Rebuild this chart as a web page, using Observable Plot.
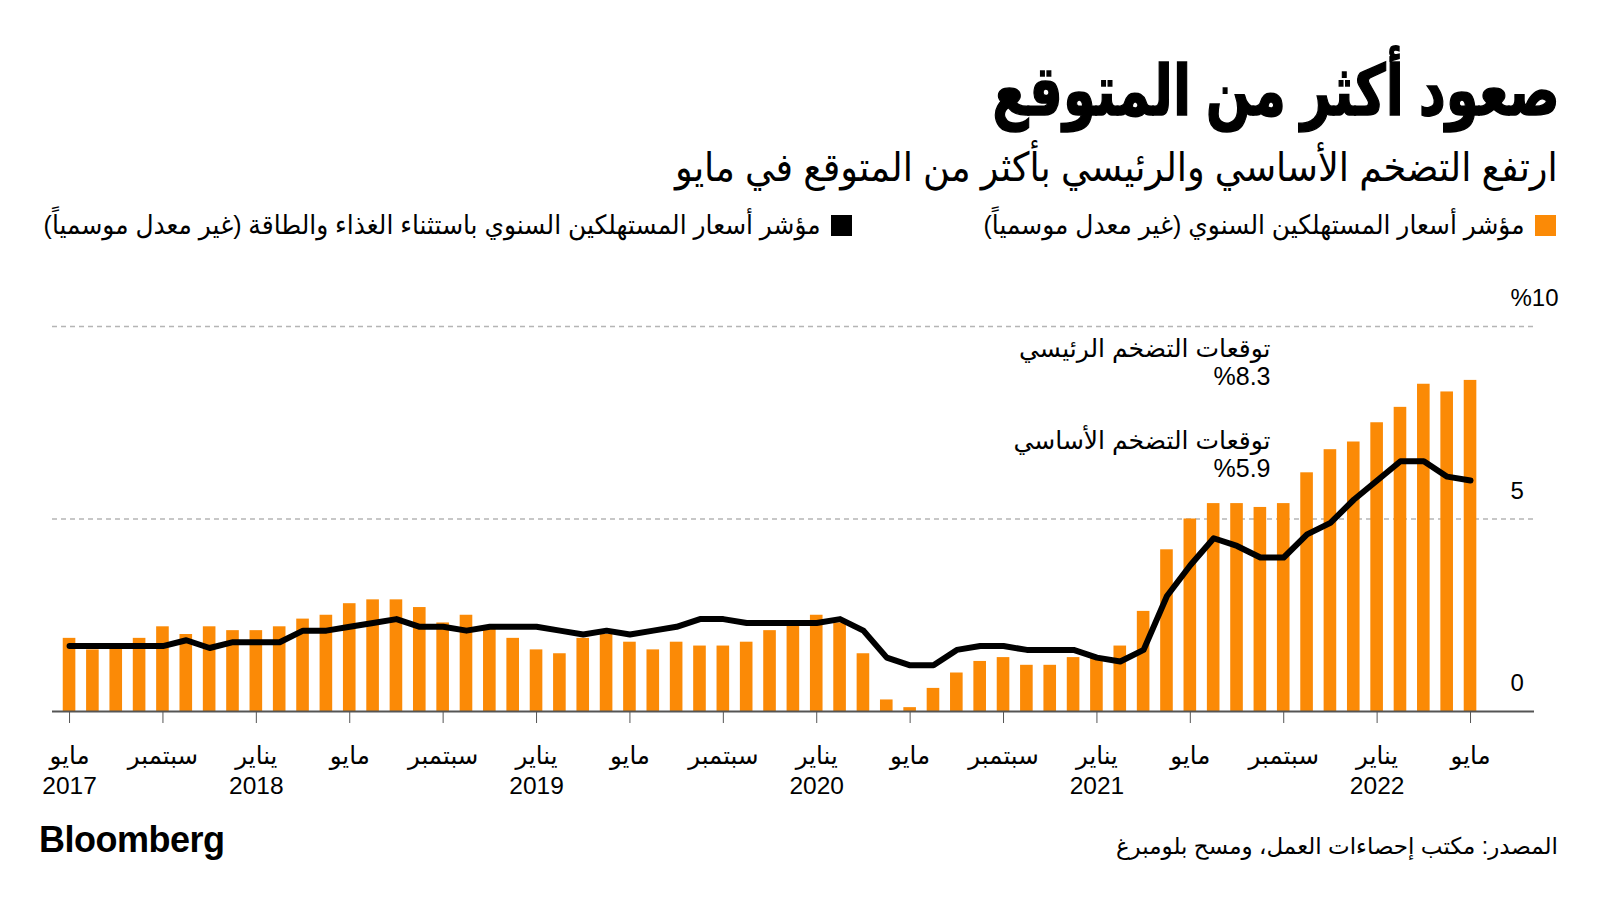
<!DOCTYPE html>
<html lang="ar">
<head>
<meta charset="utf-8">
<script src="https://cdn.jsdelivr.net/npm/d3@7"></script>
<script src="https://cdn.jsdelivr.net/npm/@observablehq/plot@0.6"></script>
<style>
  html, body { margin: 0; padding: 0; background: #fff; }
  body { width: 1600px; height: 900px; position: relative; overflow: hidden;
         font-family: "Liberation Sans", "DejaVu Sans", sans-serif; color: #000; }
  .abs { position: absolute; white-space: nowrap; }
  #title { right: 40px; top: 50px; font-size: 70px; font-weight: bold; direction: rtl;
           -webkit-text-stroke: 1.5px #000; transform: scaleX(0.755); transform-origin: right center; }
  #subtitle { right: 42px; top: 144px; font-size: 40px; direction: rtl;
              transform: scaleX(0.916); transform-origin: right center; }
  .leg { top: 210px; font-size: 26.5px; line-height: 31px; direction: rtl; display: flex; align-items: center; gap: 10px; }
  .leg .txt { display: inline-block; transform: scaleX(0.94); transform-origin: right center; }
  .sw { width: 21px; height: 21px; display: inline-block; }
  #chart { left: 0; top: 260px; }
  #logo { left: 39px; top: 819px; font-size: 36px; font-weight: bold; letter-spacing: -0.5px; direction: ltr; }
  #source { right: 42px; top: 833px; font-size: 23px; direction: rtl; }
</style>
</head>
<body>
<div id="title" class="abs"></div>
<div id="subtitle" class="abs"></div>
<div id="leg1" class="abs leg"></div>
<div id="leg2" class="abs leg"></div>
<div id="chart" class="abs"></div>
<div id="logo" class="abs"></div>
<div id="source" class="abs"></div>
<script>
// ---- texts ----
const titleText = "صعود أكثر من المتوقع";
const subtitleText = "ارتفع التضخم الأساسي والرئيسي بأكثر من المتوقع في مايو";
const seriesNames = ["مؤشر أسعار المستهلكين السنوي (غير معدل موسمياً)",
                     "مؤشر أسعار المستهلكين السنوي باستثناء الغذاء والطاقة (غير معدل موسمياً)"];
const seriesColors = ["#fb8a06", "#000000"];
const sourceText = "المصدر: مكتب إحصاءات العمل، ومسح بلومبرغ";
const logoText = "Bloomberg";

// ---- data: monthly, May 2017 .. May 2022 ----
const months = d3.utcMonth.range(new Date(Date.UTC(2017, 4, 1)), new Date(Date.UTC(2022, 5, 1)));
const cpi = [1.9,1.6,1.7,1.9,2.2,2.0,2.2,2.1,
             2.1,2.2,2.4,2.5,2.8,2.9,2.9,2.7,2.3,2.5,2.2,1.9,
             1.6,1.5,1.9,2.0,1.8,1.6,1.8,1.7,1.7,1.8,2.1,2.3,
             2.5,2.3,1.5,0.3,0.1,0.6,1.0,1.3,1.4,1.2,1.2,1.4,
             1.4,1.7,2.6,4.2,5.0,5.4,5.4,5.3,5.4,6.2,6.8,7.0,
             7.5,7.9,8.5,8.3,8.6];
const core = [1.7,1.7,1.7,1.7,1.7,1.85,1.65,1.8,
              1.8,1.8,2.1,2.1,2.2,2.3,2.4,2.2,2.2,2.1,2.2,2.2,
              2.2,2.1,2.0,2.1,2.0,2.1,2.2,2.4,2.4,2.3,2.3,2.3,
              2.3,2.4,2.1,1.4,1.2,1.2,1.6,1.7,1.7,1.6,1.6,1.6,
              1.4,1.3,1.6,3.0,3.8,4.5,4.3,4.0,4.0,4.6,4.9,5.5,
              6.0,6.5,6.5,6.1,6.0];

// ---- ticks ----
const xTickIndex = [0,4,8,12,16,20,24,28,32,36,40,44,48,52,56,60];
const xTickLabels = ["مايو\n2017","سبتمبر","يناير\n2018","مايو","سبتمبر","يناير\n2019",
                     "مايو","سبتمبر","يناير\n2020","مايو","سبتمبر","يناير\n2021",
                     "مايو","سبتمبر","يناير\n2022","مايو"];
const yTicks = [0, 5, 10];
const yTickLabels = ["0", "5", "%10"];

// ---- forecast annotations ----
const forecastLabels = ["توقعات التضخم الرئيسي", "توقعات التضخم الأساسي"];
const forecastValues = [8.3, 5.9];

// build tables
const data = months.map((m, i) => ({i, month: m, cpi: cpi[i], core: core[i]}));
const forecasts = forecastLabels.map((l, k) => ({i: months.length - 1, value: forecastValues[k], text: l + "\n%" + forecastValues[k]}));

// page texts
document.getElementById("title").textContent = titleText;
document.getElementById("subtitle").textContent = subtitleText;
document.getElementById("source").textContent = sourceText;
document.getElementById("logo").textContent = logoText;
function legendItem(el, name, color, right) {
  el.style.right = right + "px";
  const sw = document.createElement("span"); sw.className = "sw"; sw.style.background = color;
  const t = document.createElement("span"); t.className = "txt"; t.textContent = name;
  el.appendChild(sw); el.appendChild(t);
}
legendItem(document.getElementById("leg1"), seriesNames[0], seriesColors[0], 44);
legendItem(document.getElementById("leg2"), seriesNames[1], seriesColors[1], 748);

const halfBar = 0.27;
const chart = Plot.plot({
  width: 1600,
  height: 560,
  marginLeft: 52,
  marginRight: 66,
  marginTop: 66,
  marginBottom: 109,
  x: {type: "linear", domain: [-0.73, 62.74], label: null},
  y: {domain: [0, 10], label: null},
  style: {fontFamily: "'Liberation Sans', 'DejaVu Sans', sans-serif", background: "transparent", overflow: "visible"},
  marks: [
    Plot.ruleY([5, 10], {stroke: "#b5b5b5", strokeWidth: 1.3, strokeDasharray: "5,4"}),
    Plot.rectY(data, {x1: d => d.i - halfBar, x2: d => d.i + halfBar, y: "cpi", fill: seriesColors[0]}),
    Plot.ruleY([0], {stroke: "#555", strokeWidth: 2}),
    Plot.line(data, {x: "i", y: "core", stroke: seriesColors[1], strokeWidth: 6,
                     strokeLinejoin: "round", strokeLinecap: "round"}),
    Plot.axisX({ticks: xTickIndex, tickFormat: i => xTickLabels[xTickIndex.indexOf(i)], tickSize: 12, tickPadding: 19,
                fontSize: 24.5, lineHeight: 1.22, stroke: "#555", color: "#000", label: null}),
    Plot.axisY({anchor: "right", ticks: yTicks, tickFormat: v => yTickLabels[yTicks.indexOf(v)], tickSize: 0, tickPadding: 0,
                dx: -24, dy: -28, textAnchor: "start", fontSize: 24, label: null}),
    Plot.text(forecasts, {x: "i", y: "value", text: "text", dx: -200, dy: -7, textAnchor: "end", lineAnchor: "bottom",
                          fontSize: 25, lineHeight: 1.12, fill: "#000"})
  ]
});
document.getElementById("chart").appendChild(chart);
</script>
</body>
</html>
